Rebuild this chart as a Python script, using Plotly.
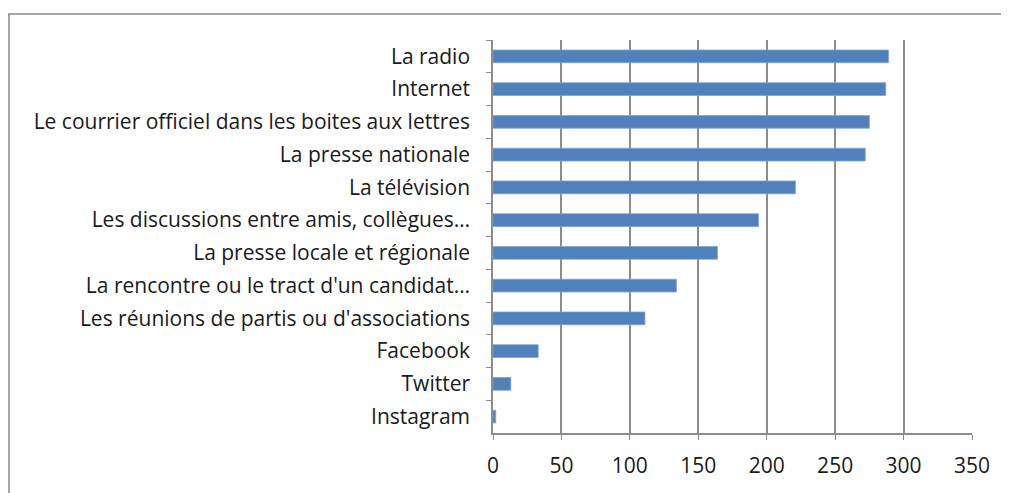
"""Horizontal bar chart: sources d'information."""

import plotly.graph_objects as go

categories = [
    "La radio",
    "Internet",
    "Le courrier officiel dans les boites aux lettres",
    "La presse nationale",
    "La télévision",
    "Les discussions entre amis, collègues…",
    "La presse locale et régionale",
    "La rencontre ou le tract d'un candidat…",
    "Les réunions de partis ou d'associations",
    "Facebook",
    "Twitter",
    "Instagram",
]
values = [289, 287, 275, 272, 221, 194, 164, 134, 111, 33, 13, 2]
x_ticks = [0, 50, 100, 150, 200, 250, 300, 350]

# page has an 8px body margin, so the figure is drawn 8px smaller
BODY = 8
W, H = 1009 - BODY, 493 - BODY
M_L, M_R, M_T, M_B = 493 - BODY, 37, 40 - BODY, 60
plot_w = W - M_L - M_R
plot_h = H - M_T - M_B

font = "Open Sans"
grid = "#8c8c8c"

bars = go.Bar(
    x=values,
    y=categories,
    orientation="h",
    marker={
        "color": "#4f81bd",
        "line": {"color": "#7fa3d3", "width": 0.8}
    },
    width=0.39,
    hoverinfo="x+y"
)

fig = go.Figure(data=[bars])

# outer frame of the chart object (right/bottom edges fall outside view)
frame_left = (1 - M_L) / plot_w
frame_top = (H - M_B - (14 - BODY)) / plot_h
fig.add_shape(type="line", xref="paper", yref="paper",
              x0=(-3 - M_L) / plot_w, x1=2, y0=frame_top, y1=frame_top,
              line={"color": "#8a8a8a", "width": 1.5})
fig.add_shape(type="line", xref="paper", yref="paper",
              x0=frame_left, x1=frame_left, y0=frame_top, y1=-1,
              line={"color": "#8a8a8a", "width": 1.5})

fig.update_layout(
    width=W,
    height=H,
    margin={"l": M_L, "r": M_R, "t": M_T, "b": M_B, "pad": 0},
    showlegend=False,
    plot_bgcolor="white",
    paper_bgcolor="white",
    font={"family": font, "size": 21, "color": "#1a1a1a"},
    xaxis={
        "range": [0, 350],
        "tickvals": x_ticks,
        "showgrid": True,
        "gridcolor": grid,
        "gridwidth": 1.5,
        "zeroline": False,
        "showline": True,
        "linecolor": grid,
        "linewidth": 1.5,
        "ticks": "outside",
        "ticklen": 5,
        "tickcolor": grid,
        "tickfont": {"size": 21},
        "ticklabelstandoff": 8,
        "fixedrange": True
    },
    yaxis={
        "autorange": "reversed",
        "tickson": "boundaries",
        "ticks": "outside",
        "ticklen": 5,
        "tickcolor": grid,
        "showline": True,
        "linecolor": grid,
        "linewidth": 1.5,
        "showgrid": False,
        "tickfont": {"size": 21},
        "ticklabelstandoff": 17,
        "fixedrange": True
    },
)

fig.write_html("out.html")
